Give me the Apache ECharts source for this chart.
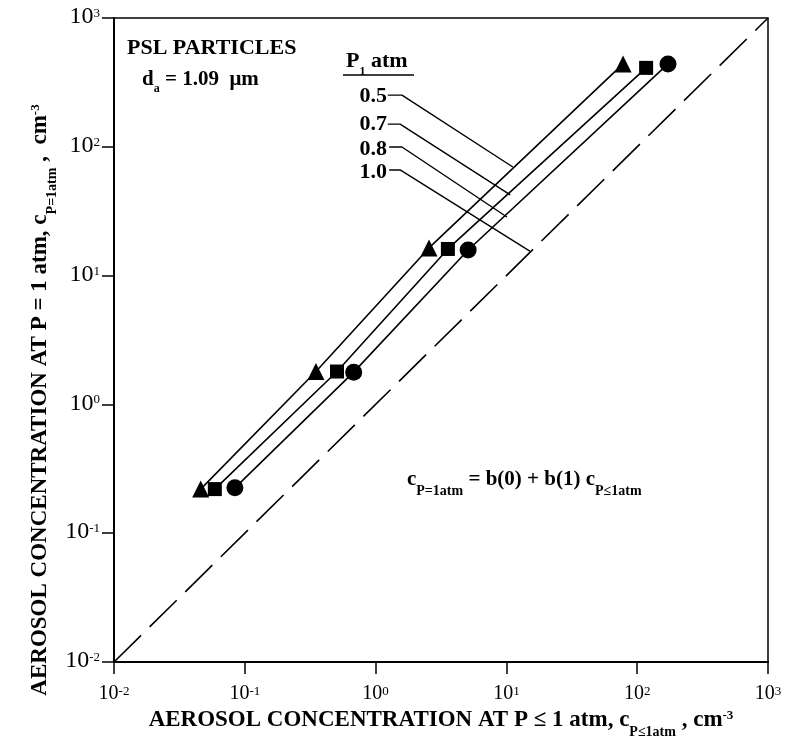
<!DOCTYPE html>
<html>
<head>
<meta charset="utf-8">
<script src="https://cdn.jsdelivr.net/npm/echarts@6/dist/echarts.min.js"></script>
<style>
html, body { margin: 0; padding: 0; background: #fff; }
#chart { width: 792px; height: 750px; }
</style>
</head>
<body>
<div id="chart"></div>
<script>
// values (cm^-3)
const pressureLabels = ['0.5', '0.7', '0.8', '1.0'];
const cLow05 = [0.046, 0.35, 2.56, 78];
const cAtm05 = [0.22, 1.8, 16.4, 440];
const cLow07 = [0.059, 0.507, 3.57, 117];
const cAtm07 = [0.22, 1.8, 16.1, 410];
const cLow08 = [0.084, 0.68, 5.1, 172];
const cAtm08 = [0.225, 1.78, 15.8, 440];
const cLow10 = [0.01, 1000];
const cAtm10 = [0.01, 1000];
// leader lines from each P1 label to its curve, in data units
const leaders = [
    [[1.24, 252], [1.59, 252], [11.2, 69.7]],
    [[1.24, 150], [1.54, 150], [10.7, 42.3]],
    [[1.27, 99.6], [1.59, 99.6], [10.1, 28.5]],
    [[1.27, 66.1], [1.54, 66.1], [15.1, 15.5]]
];

const FONT = 'Liberation Serif';
const chart = echarts.init(document.getElementById('chart'));

function pairs(xs, ys) {
    return xs.map((x, i) => [x, ys[i]]);
}

// rich styles: base text top-aligned, subscripts pushed to the bottom of a taller line
function subRich(size, subSize, lh) {
    return {
        t: { fontFamily: FONT, fontWeight: 'bold', fontSize: size, color: '#000', verticalAlign: 'top', lineHeight: lh },
        sub: { fontFamily: FONT, fontWeight: 'bold', fontSize: subSize, color: '#000', verticalAlign: 'bottom', lineHeight: subSize },
        sup: { fontFamily: FONT, fontWeight: 'bold', fontSize: subSize - 1, color: '#000', verticalAlign: 'top', lineHeight: subSize - 1 }
    };
}
function tickRich(size, lh) {
    return {
        b: { fontFamily: FONT, fontSize: size, color: '#000', lineHeight: lh, verticalAlign: 'bottom' },
        s: { fontFamily: FONT, fontSize: 13, color: '#000', lineHeight: 13, verticalAlign: 'top' }
    };
}
function powLabel(v) {
    const e = Math.round(Math.log10(v));
    return '{b|10}{s|' + e + '}';
}

const series = [];
const markers = ['triangle', 'rect', 'circle'];
const sizes = [17, 14, 17];
[[cLow05, cAtm05], [cLow07, cAtm07], [cLow08, cAtm08]].forEach((d, i) => {
    series.push({
        name: pressureLabels[i],
        type: 'line',
        data: pairs(d[0], d[1]),
        symbol: markers[i],
        symbolSize: sizes[i],
        showAllSymbol: true,
        itemStyle: { color: '#000' },
        lineStyle: { color: '#000', width: 1.6 },
        silent: true,
        z: 3
    });
});
series.push({
    name: pressureLabels[3],
    type: 'line',
    data: pairs(cLow10, cAtm10),
    symbol: 'none',
    lineStyle: { color: '#000', width: 1.6, type: [38, 12] },
    silent: true
});
leaders.forEach(l => {
    series.push({
        type: 'line',
        data: l,
        symbol: 'none',
        lineStyle: { color: '#000', width: 1.4 },
        silent: true
    });
});

const option = {
    animation: false,
    backgroundColor: '#fff',
    grid: {
        left: 114, right: 24, top: 18, bottom: 88,
        show: true, borderColor: '#000', borderWidth: 1.5
    },
    xAxis: {
        type: 'log', logBase: 10, min: 0.01, max: 1000,
        name: '{t|AEROSOL CONCENTRATION AT P ≤ 1 atm, c}{sub|P≤1atm}{t| , cm}{sup|-3}',
        nameLocation: 'middle', nameGap: 44,
        nameTextStyle: { rich: subRich(23, 14, 30) },
        axisLine: { lineStyle: { color: '#000', width: 2 } },
        axisTick: { length: 12, lineStyle: { color: '#000', width: 1.5 } },
        minorTick: { show: false },
        splitLine: { show: false },
        axisLabel: { formatter: powLabel, rich: tickRich(20, 19), margin: 23 }
    },
    yAxis: {
        type: 'log', logBase: 10, min: 0.01, max: 1000,
        axisLine: { lineStyle: { color: '#000', width: 2 } },
        axisTick: { length: 12, lineStyle: { color: '#000', width: 1.5 } },
        minorTick: { show: false },
        splitLine: { show: false },
        axisLabel: { formatter: powLabel, rich: tickRich(24, 22), margin: 14 }
    },
    graphic: [
        {
            type: 'text', x: 29, y: 400, rotation: Math.PI / 2,
            style: {
                x: 0, y: 0,
                text: '{t|AEROSOL CONCENTRATION AT P = 1 atm, c}{sub|P=1atm}{t| ,  cm}{sup|-3}',
                fontFamily: FONT, fontWeight: 'bold', fontSize: 23, fill: '#000',
                rich: subRich(23, 14, 30), textAlign: 'center', textVerticalAlign: 'top'
            }
        },
        { type: 'text', style: { x: 127, y: 48, text: 'PSL PARTICLES', font: 'bold 22px "Liberation Serif"', fill: '#000', textVerticalAlign: 'middle' } },
        { type: 'text', style: { x: 142, y: 69, text: '{t|d}{sub|a}{t| = 1.09  μm}', rich: subRich(21, 12, 26), textVerticalAlign: 'top' } },
        { type: 'text', style: { x: 346, y: 50, text: '{t|P}{sub|1}{t| atm}', rich: subRich(22, 12, 28), textVerticalAlign: 'top' } },
        { type: 'line', shape: { x1: 343, y1: 75, x2: 414, y2: 75 }, style: { stroke: '#000', lineWidth: 1.5 } },
        ...pressureLabels.map((p, i) => ({
            type: 'text',
            style: { x: 387, y: [96, 124, 149, 172][i], text: p, font: 'bold 22px "Liberation Serif"', fill: '#000', textAlign: 'right', textVerticalAlign: 'middle' }
        })),
        { type: 'text', style: { x: 407, y: 469, text: '{t|c}{sub|P=1atm}{t| = b(0) + b(1) c}{sub|P≤1atm}', rich: subRich(21, 14, 29), textVerticalAlign: 'top' } }
    ],
    series: series
};
chart.setOption(option);
</script>
</body>
</html>
